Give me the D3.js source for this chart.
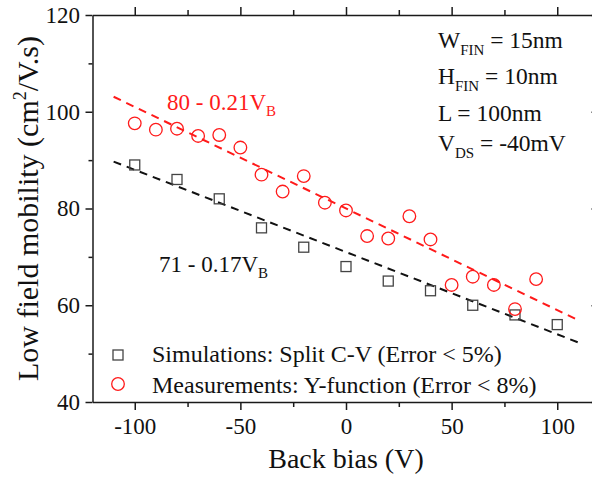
<!DOCTYPE html>
<html>
<head>
<meta charset="utf-8">
<script src="https://cdn.jsdelivr.net/npm/d3@7"></script>
<style>
  html, body { margin: 0; padding: 0; background: #fff; }
  svg { display: block; }
  text { font-family: "Liberation Serif", "Times New Roman", serif; fill: #111; }
</style>
</head>
<body>
<svg id="chart" width="592" height="477"></svg>
<script>
// Simulated mobility (split C-V)
const simBias = [-100, -80, -60, -40, -20, 0, 20, 40, 60, 80, 100];
const simMobility = [89, 86, 82, 76, 72, 68, 65, 63, 60, 58, 56];

// Measured mobility (Y-function)
const measBias = [-100, -90, -80, -70, -60, -50, -40, -30, -20, -10, 0, 10, 20, 30, 40, 50, 60, 70, 80, 90];
const measMobility = [97.6, 96.3, 96.5, 95.0, 95.2, 92.6, 87.0, 83.5, 86.7, 81.2, 79.6, 74.3, 73.8, 78.4, 73.6, 64.2, 65.9, 64.2, 59.2, 65.4];

// Linear fits: mobility = intercept + slope * VB
const fitIntercepts = [71, 80];
const fitSlopes = [-0.17, -0.21];
const fitSpan = [-110, 110];

// Axis ticks
const xMajorTicks = [-100, -50, 0, 50, 100];
const xMinorTicks = [-75, -25, 25, 75];
const yMajorTicks = [40, 60, 80, 100, 120];
const yMinorTicks = [50, 70, 90, 110];

const svg = d3.select("#chart");
const x = d3.scaleLinear().domain([-120, 120]).range([92.5, 599.5]);
const y = d3.scaleLinear().domain([40, 120]).range([402, 15]);

const axisColor = "#1a1a1a";
const red = "#ff1a1a";

// frame + ticks
function styleAxis(g) {
  g.select(".domain").attr("stroke", axisColor).attr("stroke-width", 1.5);
  g.selectAll(".tick line").attr("stroke", axisColor).attr("stroke-width", 1.5);
}

const bottomAxis = svg.append("g").attr("transform", `translate(0,${y(40)})`)
  .call(d3.axisBottom(x).tickValues(xMajorTicks).tickSize(8).tickSizeOuter(0).tickPadding(10)
    .tickFormat(d => d < 0 ? "-" + Math.abs(d) : d));
styleAxis(bottomAxis);
bottomAxis.selectAll(".tick text").attr("font-size", 23).attr("fill", "#111")
  .style("font-family", '"Liberation Serif", serif').attr("dy", "0.71em").attr("y", 16);
svg.append("g").attr("transform", `translate(0,${y(40)})`)
  .call(d3.axisBottom(x).tickValues(xMinorTicks).tickSize(5).tickFormat(""))
  .call(g => g.select(".domain").remove())
  .call(styleAxis);

const topAxis = svg.append("g").attr("transform", `translate(0,${y(120)})`)
  .call(d3.axisBottom(x).tickValues(xMajorTicks).tickSize(-8).tickSizeOuter(0).tickFormat(""));
styleAxis(topAxis);
svg.append("g").attr("transform", `translate(0,${y(120)})`)
  .call(d3.axisBottom(x).tickValues(xMinorTicks).tickSize(-5).tickFormat(""))
  .call(g => g.select(".domain").remove())
  .call(styleAxis);

const leftAxis = svg.append("g").attr("transform", `translate(${x(-120)},0)`)
  .call(d3.axisLeft(y).tickValues(yMajorTicks).tickSize(7).tickSizeOuter(0).tickPadding(6));
styleAxis(leftAxis);
leftAxis.selectAll(".tick text").attr("font-size", 23).attr("fill", "#111")
  .style("font-family", '"Liberation Serif", serif').attr("x", -12.5);
svg.append("g").attr("transform", `translate(${x(-120)},0)`)
  .call(d3.axisLeft(y).tickValues(yMinorTicks).tickSize(4).tickFormat(""))
  .call(g => g.select(".domain").remove())
  .call(styleAxis);

const rightAxis = svg.append("g").attr("transform", `translate(${x(120)},0)`)
  .call(d3.axisLeft(y).tickValues(yMajorTicks).tickSize(-8).tickSizeOuter(0).tickFormat(""));
styleAxis(rightAxis);
// right axis ticks point into the plot
rightAxis.selectAll(".tick line").attr("x2", -8);
svg.append("g").attr("transform", `translate(${x(120)},0)`)
  .call(d3.axisLeft(y).tickValues(yMinorTicks).tickSize(-5).tickFormat(""))
  .call(g => g.select(".domain").remove())
  .call(styleAxis)
  .call(g => g.selectAll(".tick line").attr("x2", -5));

// fit lines
const fitColors = ["#111", red];
fitIntercepts.forEach((b, i) => {
  const pts = fitSpan.map(v => [v, b + fitSlopes[i] * v]);
  svg.append("path")
    .attr("d", d3.line().x(d => x(d[0])).y(d => y(d[1]))(pts))
    .attr("fill", "none")
    .attr("stroke", fitColors[i])
    .attr("stroke-width", 2)
    .attr("stroke-dasharray", "8,6");
});

// simulation squares
const sq = 10;
svg.append("g").selectAll("rect")
  .data(simBias.map((v, i) => [v, simMobility[i]]))
  .join("rect")
  .attr("x", d => x(d[0]) - sq / 2)
  .attr("y", d => y(d[1]) - sq / 2)
  .attr("width", sq).attr("height", sq)
  .attr("fill", "none").attr("stroke", "#444").attr("stroke-width", 1.3);

// measurement circles
svg.append("g").selectAll("circle")
  .data(measBias.map((v, i) => [v, measMobility[i]]))
  .join("circle")
  .attr("cx", d => x(d[0]))
  .attr("cy", d => y(d[1]))
  .attr("r", 6.3)
  .attr("fill", "none").attr("stroke", red).attr("stroke-width", 1.3);

// fit equations
function equation(tx, ty, main, color) {
  const t = svg.append("text").attr("x", tx).attr("y", ty).attr("font-size", 23).style("fill", color);
  t.append("tspan").text(main);
  t.append("tspan").attr("font-size", 15).attr("dy", 6).text("B");
}
equation(167, 110, "80 - 0.21V", red);
equation(159, 272, "71 - 0.17V", "#111");

// device parameters
const params = [
  { main: "W", sub: "FIN", rest: " = 15nm", yb: 48 },
  { main: "H", sub: "FIN", rest: " = 10nm", yb: 84 },
  { main: "L = 100nm", sub: "", rest: "", yb: 121 },
  { main: "V", sub: "DS", rest: " = -40mV", yb: 151 }
];
params.forEach(p => {
  const t = svg.append("text").attr("x", 438).attr("y", p.yb).attr("font-size", 23.5);
  t.append("tspan").text(p.main);
  if (p.sub) {
    t.append("tspan").attr("font-size", 15).attr("dy", 7).text(p.sub);
    t.append("tspan").attr("dy", -7).text(p.rest);
  }
});

// legend
svg.append("rect").attr("x", 118 - sq / 2).attr("y", 355 - sq / 2).attr("width", sq).attr("height", sq)
  .attr("fill", "none").attr("stroke", "#444").attr("stroke-width", 1.3);
svg.append("text").attr("x", 152).attr("y", 362).attr("font-size", 24).text("Simulations: Split C-V (Error < 5%)");
svg.append("circle").attr("cx", 118).attr("cy", 384).attr("r", 6.3)
  .attr("fill", "none").attr("stroke", red).attr("stroke-width", 1.3);
svg.append("text").attr("x", 152).attr("y", 393).attr("font-size", 24).text("Measurements: Y-function (Error < 8%)");

// axis titles
svg.append("text").attr("x", x(0)).attr("y", 468).attr("text-anchor", "middle")
  .attr("font-size", 28).text("Back bias (V)");
const yt = svg.append("text")
  .attr("transform", `translate(38,${(y(40) + y(120)) / 2}) rotate(-90)`)
  .attr("text-anchor", "middle").attr("font-size", 30);
yt.append("tspan").text("Low field mobility (cm");
yt.append("tspan").attr("font-size", 18).attr("dy", -12).text("2");
yt.append("tspan").attr("dy", 12).text("/V.s)");
</script>
</body>
</html>
